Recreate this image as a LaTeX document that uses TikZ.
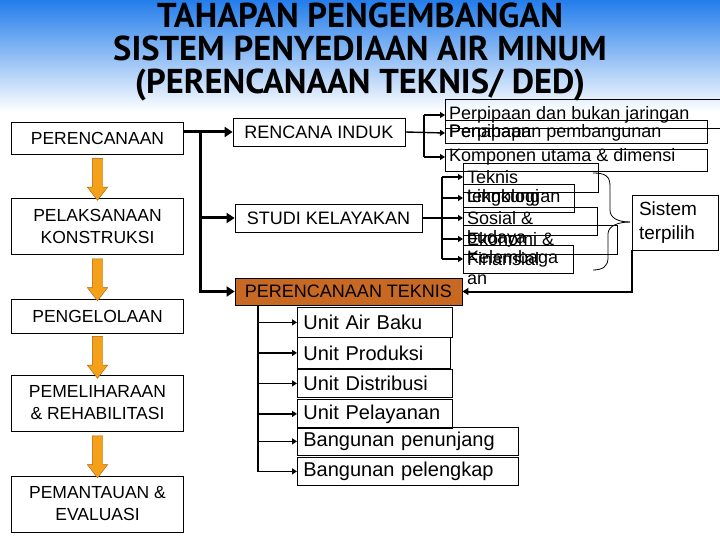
\documentclass[tikz,border=0pt]{standalone}
\usepackage{fontspec}
\setmainfont{Liberation Sans}
\newfontfamily\titlefont{PT Sans}
\usetikzlibrary{arrows.meta}
\usetikzlibrary{shapes.arrows}
\definecolor{skyblue}{RGB}{35,125,235}
\definecolor{stageorange}{RGB}{245,160,25}
\definecolor{stageedge}{RGB}{170,95,10}
\definecolor{teknisfill}{RGB}{200,105,35}
\tikzset{
  stagebox/.style={draw, line width=0.8pt, minimum width=172pt, align=center,
    inner sep=0pt, font=\fontsize{17.5}{22}\selectfont},
  stagearrow/.style={single arrow, draw=stageedge, fill=stageorange, rotate=-90,
    minimum height=42pt, inner sep=5pt, single arrow head extend=5pt,
    single arrow tip angle=75},
  planbox/.style={draw, line width=0.8pt, minimum height=28pt, inner sep=0pt,
    font=\fontsize{18}{22}\selectfont},
  listtext/.style={anchor=west, inner xsep=4pt, inner ysep=0pt,
    font=\fontsize{18}{21}\selectfont},
  unitbox/.style={draw, line width=0.8pt, anchor=north west, inner xsep=6pt,
    inner ysep=0pt, align=left, font=\fontsize{20}{24}\selectfont},
  mainbus/.style={line width=3pt, -{Triangle[length=8pt,width=10pt]}},
  subbus/.style={line width=1.4pt, -{Triangle[length=5pt,width=6pt]}},
  subline/.style={line width=1.4pt},
}
\begin{document}
\begin{tikzpicture}[x=1pt, y=-1pt]
\useasboundingbox (0,0) rectangle (720,540);
\shade[top color=skyblue, bottom color=white] (0,0) rectangle (720,112);

\node[font=\titlefont\bfseries\fontsize{34.5}{33}\selectfont, align=center] (title) at (360,52)
  {TAHAPAN PENGEMBANGAN\\SISTEM PENYEDIAAN AIR MINUM\\(PERENCANAAN TEKNIS/ DED)};

% tahapan
\node[stagebox, minimum height=32pt] (perencanaan) at (97.5,138) {PERENCANAAN};
\node[stagebox, minimum height=56pt] (pelaksanaan) at (97.5,226) {PELAKSANAAN\\KONSTRUKSI};
\node[stagebox, minimum height=34pt] (pengelolaan) at (97.5,316) {PENGELOLAAN};
\node[stagebox, minimum height=56pt] (pemeliharaan) at (97.5,403) {PEMELIHARAAN\\\& REHABILITASI};
\node[stagebox, minimum height=56pt] (pemantauan) at (97.5,504) {PEMANTAUAN \&\\EVALUASI};

\path (perencanaan.south) -- (pelaksanaan.north) node[stagearrow, midway] (arr1) {};
\path (pelaksanaan.south) -- (pengelolaan.north) node[stagearrow, midway] (arr2) {};
\path (pengelolaan.south) -- (pemeliharaan.north) node[stagearrow, midway] (arr3) {};
\path (pemeliharaan.south) -- (pemantauan.north) node[stagearrow, midway] (arr4) {};

% perencanaan
\node[planbox, minimum width=172pt] (induk) at (319,132) {RENCANA INDUK};
\node[planbox, minimum width=187pt] (studi) at (328.5,218) {STUDI KELAYAKAN};
\node[planbox, minimum width=227pt, minimum height=27pt, fill=teknisfill] (teknis) at (348.5,291.5) {PERENCANAAN TEKNIS};

\coordinate (split) at (200,132);
\draw[mainbus] (perencanaan.east |- split) -- (induk.west);
\draw[mainbus] (split) |- (studi.west);
\draw[mainbus] (split) |- (teknis.west);

% rencana induk
\draw[line width=0.8pt] (445,99) rectangle (725,128);
\draw[line width=0.8pt] (445,120) rectangle (707,143);
\draw[line width=0.8pt] (445,149) rectangle (707,171);
\node[listtext] (pipa) at (445,115) {Perpipaan dan bukan jaringan};
\node[listtext] (tahap) at (445,133) {Penahapan pembangunan};
\node[listtext] (pipb) at (445,133) {Perpipaan};
\node[listtext] (komponen) at (445,157) {Komponen utama \& dimensi};

\coordinate (isplit) at (424,132);
\draw[subbus] (induk.east) -- (tahap.west);
\draw[subline] (isplit |- pipa.west) -- (isplit |- komponen.west);
\draw[subbus] (isplit |- pipa.west) -- (pipa.west);
\draw[subbus] (isplit |- komponen.west) -- (komponen.west);

% studi kelayakan
\draw[line width=0.8pt] (463,163) rectangle (598,192);
\draw[line width=0.8pt] (463,184) rectangle (574,212);
\draw[line width=0.8pt] (463,207) rectangle (597,235);
\draw[line width=0.8pt] (463,225) rectangle (617,254);
\draw[line width=0.8pt] (463,245) rectangle (573,273);
\node[listtext] (teknisa) at (463,177) {Teknis};
\node[listtext] (teknisb) at (463,198) {teknologi};
\node[listtext] (lingkungan) at (463,198) {Lingkungan};
\node[listtext] (sosiala) at (463,218) {Sosial \&};
\node[listtext] (sosialb) at (463,239) {budaya};
\node[listtext] (ekonomia) at (463,239) {Ekonomi \&};
\node[listtext] (ekonomib) at (463,259) {Finansial};
\node[listtext] (lembagaa) at (463,259) {Kelembaga};
\node[listtext] (lembagab) at (463,280) {an};

\coordinate (ssplit) at (442,218);
\draw[subbus] (studi.east) -- (sosiala.west);
\draw[subline] (ssplit |- teknisa.west) -- (ssplit |- lembagaa.west);
\foreach \n in {teknisa, lingkungan, ekonomia, lembagaa}
  \draw[subbus] (ssplit |- \n.west) -- (\n.west);

% sistem terpilih
\draw[line width=0.8pt] (593,173) .. controls (605,173) and (610,176) .. (610,186) -- (610,210)
  .. controls (610,218) and (618,222) .. (630,222);
\draw[line width=0.8pt] (630,222) .. controls (618,222) and (608,226) .. (608,234) -- (608,258)
  .. controls (608,266) and (603,270) .. (593,270);
\node[draw, line width=0.8pt, minimum width=86pt, minimum height=55pt, align=left,
  text width=72pt, inner xsep=7pt, font=\fontsize{19}{24}\selectfont] (sistem) at (675,222.5) {Sistem\\terpilih};
\draw[line width=2pt, -{Triangle[length=6pt,width=7pt]}] (sistem.south west) |- (teknis.east);

% perencanaan teknis
\node[unitbox, text width=143pt, minimum height=30pt] (airbaku) at (297,307) {Unit Air Baku};
\node[unitbox, text width=141pt, minimum height=31pt] (produksi) at (297,337) {Unit Produksi};
\node[unitbox, text width=143pt, minimum height=28pt] (distribusi) at (297,369) {Unit Distribusi};
\node[unitbox, text width=143pt, minimum height=29pt] (pelayanan) at (297,399) {Unit Pelayanan};
\node[unitbox, text width=209pt, minimum height=28pt] (penunjang) at (297,427) {Bangunan penunjang};
\node[unitbox, text width=209pt, minimum height=28pt] (pelengkap) at (297,457) {Bangunan pelengkap};

\coordinate (usplit) at (258,305);
\draw[subbus] (usplit) |- (pelengkap.west);
\foreach \n in {airbaku, produksi, distribusi, pelayanan, penunjang}
  \draw[subbus] (usplit |- \n.west) -- (\n.west);

\end{tikzpicture}
\end{document}
